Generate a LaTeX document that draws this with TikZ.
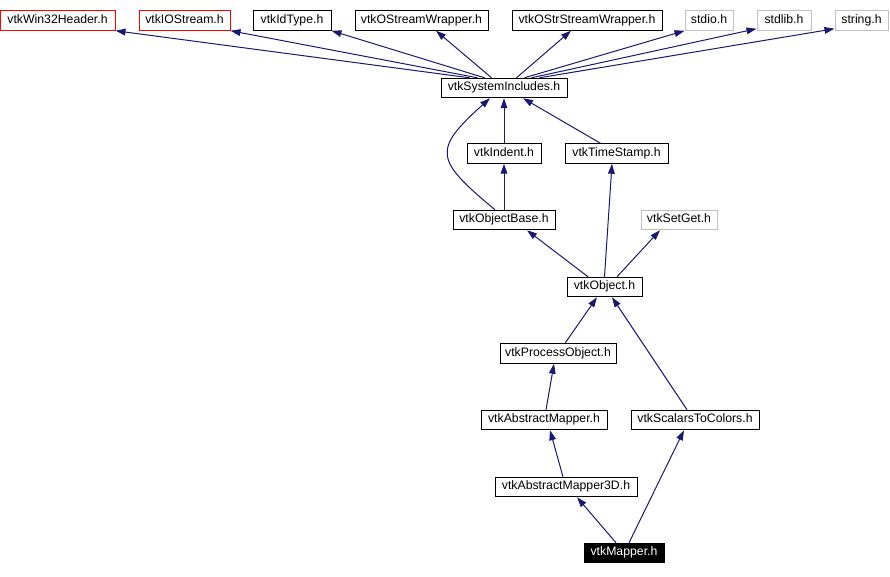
\documentclass[tikz,border=0pt]{standalone}
\usepackage{fontspec}
\setmainfont{Liberation Sans}
\usetikzlibrary{arrows.meta,calc}
\definecolor{edgenavy}{HTML}{191970}
\definecolor{hdrred}{HTML}{FF0000}
\definecolor{hdrgrey}{HTML}{BFBFBF}

\begin{document}
\begin{tikzpicture}[x=0.75pt,y=-0.75pt,>={Triangle[length=7.5pt,width=5pt]}]
\tikzset{hdr/.style={draw=black,line width=0.75pt,minimum height=14.6pt,inner sep=0pt,text height=9.4pt,text depth=5.2pt,font=\fontsize{9.2}{11}\selectfont},
  redhdr/.style={hdr,draw=hdrred},
  greyhdr/.style={hdr,draw=hdrgrey},
  curhdr/.style={hdr,fill=black,text=white},
  dep/.style={->,edgenavy,line width=0.75pt}}
\useasboundingbox (0,0) rectangle (890,576);
\node[redhdr,minimum width=86.25pt] (win) at (57.5,20.5) {vtkWin32Header.h};
\node[redhdr,minimum width=68.25pt] (ios) at (184.5,20.5) {vtkIOStream.h};
\node[hdr,minimum width=58.5pt] (idt) at (292,20.5) {vtkIdType.h};
\node[hdr,minimum width=99.75pt] (osw) at (421.5,20.5) {vtkOStreamWrapper.h};
\node[hdr,minimum width=112.5pt] (osstr) at (587,20.5) {vtkOStrStreamWrapper.h};
\node[greyhdr,minimum width=36pt] (stdio) at (709,20.5) {stdio.h};
\node[greyhdr,minimum width=40.5pt] (stdlib) at (784,20.5) {stdlib.h};
\node[greyhdr,minimum width=39.75pt] (string) at (861.5,20.5) {string.h};
\node[hdr,minimum width=94.5pt] (sys) at (504,88) {vtkSystemIncludes.h};
\node[hdr,minimum width=55.5pt] (ind) at (504,153.5) {vtkIndent.h};
\node[hdr,minimum width=77.25pt] (ts) at (616.5,153.5) {vtkTimeStamp.h};
\node[hdr,minimum width=76.5pt] (ob) at (504,220) {vtkObjectBase.h};
\node[greyhdr,minimum width=57pt] (sg) at (679,220) {vtkSetGet.h};
\node[hdr,minimum width=56.25pt] (obj) at (604.5,287) {vtkObject.h};
\node[hdr,minimum width=87pt] (po) at (558,353.5) {vtkProcessObject.h};
\node[hdr,minimum width=94.5pt] (am) at (544,420) {vtkAbstractMapper.h};
\node[hdr,minimum width=96pt] (stc) at (695,420) {vtkScalarsToColors.h};
\node[hdr,minimum width=106.5pt] (am3) at (566,487) {vtkAbstractMapper3D.h};
\node[curhdr,minimum width=60pt] (map) at (624,553) {vtkMapper.h};
\draw[dep] ($(sys.north west)+(29,0)$) -- (win.south east);
\draw[dep] ($(sys.north west)+(37,0)$) -- (ios.south east);
\draw[dep] ($(sys.north west)+(44,0)$) -- (idt.south east);
\draw[dep] ($(sys.north west)+(51,0)$) -- ($(osw.south)+(14.5,0)$);
\draw[dep] ($(sys.north west)+(76,0)$) -- ($(osstr.south)+(-16,0)$);
\draw[dep] ($(sys.north west)+(84,0)$) -- (stdio.south west);
\draw[dep] ($(sys.north west)+(91,0)$) -- ($(stdlib.south west)+(0,-2)$);
\draw[dep] ($(sys.north west)+(99,0)$) -- ($(string.south west)+(0,-2)$);
\draw[dep] (ind) -- (sys);
\draw[dep] ($(ts.north)+(-16,0)$) -- ($(sys.south)+(19,0)$);
\draw[dep] ($(ob.north)+(-9,0)$) .. controls +(-60,-50) and +(-58,52) .. ($(sys.south)+(-14,0)$);
\draw[dep] (ob) -- (ind);
\draw[dep] ($(obj.north)+(-16.5,0)$) -- ($(ob.south)+(23,0)$);
\draw[dep] (obj.north) -- ($(ts.south)+(-4.5,0)$);
\draw[dep] ($(obj.north)+(12.5,0)$) -- ($(sg.south)+(-19,0)$);
\draw[dep] ($(po.north)+(7,0)$) -- ($(obj.south)+(-7.5,0)$);
\draw[dep] ($(stc.north)+(-8,0)$) -- ($(obj.south)+(7.5,0)$);
\draw[dep] ($(am.north)+(2,0)$) -- ($(po.south)+(-4,0)$);
\draw[dep] ($(am3.north)+(-3,0)$) -- ($(am.south)+(6,0)$);
\draw[dep] ($(map.north)+(-8,0)$) -- ($(am3.south)+(11,0)$);
\draw[dep] ($(map.north)+(5,0)$) -- ($(stc.south)+(-11,0)$);
\end{tikzpicture}
\end{document}
